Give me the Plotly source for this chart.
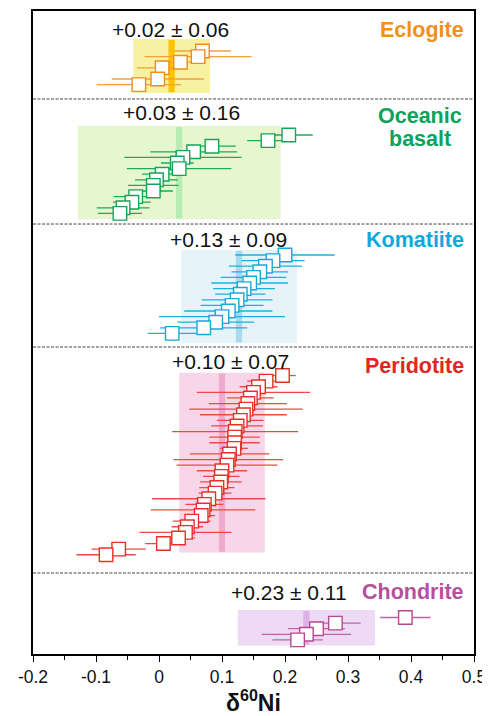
import plotly.graph_objects as go

# ---------------- data ----------------
GROUPS = ["Eclogite", "Oceanic<br>basalt", "Komatiite", "Peridotite", "Chondrite"]
STAT_LABELS = ["+0.02 ± 0.06", "+0.03 ± 0.16", "+0.13 ± 0.09", "+0.10 ± 0.07", "+0.23 ± 0.11"]
MEANS = [0.020, 0.032, 0.127, 0.100, 0.234]
SD2 = [0.061, 0.161, 0.092, 0.068, 0.109]

ecl_val = [0.069, 0.062, 0.034, 0.005, -0.002, -0.032]
ecl_err = [0.045, 0.085, 0.040, 0.040, 0.073, 0.067]
ecl_rank = [0, 1, 2, 3, 5, 6]

ob_val = [0.206, 0.173, 0.084, 0.055, 0.038, 0.029, 0.032, 0.005, -0.004, -0.009,
          -0.009, -0.037, -0.043, -0.057, -0.062]
ob_err = [0.038, 0.033, 0.038, 0.069, 0.093, 0.026, 0.083, 0.032, 0.034, 0.040,
          0.031, 0.035, 0.030, 0.042, 0.035]
ob_rank = list(range(15))

kom_val = [0.200, 0.181, 0.169, 0.160, 0.150, 0.144, 0.135, 0.129, 0.124, 0.116,
           0.110, 0.100, 0.090, 0.071, 0.021]
kom_err = [0.079, 0.050, 0.058, 0.045, 0.052, 0.061, 0.049, 0.040, 0.056, 0.050,
           0.070, 0.100, 0.061, 0.069, 0.039]
kom_rank = list(range(15))

per_val = [0.196, 0.170, 0.158, 0.150, 0.145, 0.141, 0.138, 0.134, 0.129, 0.124,
           0.121, 0.120, 0.120, 0.119, 0.112, 0.110, 0.108, 0.100, 0.099, 0.098,
           0.092, 0.089, 0.079, 0.072, 0.070, 0.067, 0.052, 0.045, 0.042, 0.031,
           0.007, -0.064, -0.084]
per_err = [0.021, 0.030, 0.030, 0.090, 0.037, 0.062, 0.090, 0.069, 0.037, 0.041,
           0.100, 0.040, 0.040, 0.022, 0.063, 0.087, 0.080, 0.040, 0.029, 0.033,
           0.028, 0.026, 0.090, 0.030, 0.083, 0.022, 0.030, 0.025, 0.073, 0.026,
           0.029, 0.043, 0.047]
per_rank = list(range(33))

chd_val = [0.391, 0.280, 0.250, 0.234, 0.220]
chd_err = [0.040, 0.040, 0.045, 0.071, 0.040]
chd_rank = list(range(5))

TICK_VALS = [-0.2, -0.1, 0, 0.1, 0.2, 0.3, 0.4, 0.5]
TICK_LABELS = ["-0.2", "-0.1", "0", "0.1", "0.2", "0.3", "0.4", "0.5"]
X_TITLE = "<b>δ<sup>60</sup>Ni</b>"

# ---------------- layout / style ----------------
VALS = [ecl_val, ob_val, kom_val, per_val, chd_val]
ERRS = [ecl_err, ob_err, kom_err, per_err, chd_err]
RANKS = [ecl_rank, ob_rank, kom_rank, per_rank, chd_rank]

ROW0 = [7.14, 22.14, 43.57, 65.1, 108.3]          # row position of first sample
BOX_Y = [(5.0, 14.64), (20.54, 37.2), (42.68, 59.34), (64.6, 96.7), (106.96, 113.3)]
SEPARATORS = [15.71, 38.04, 60.0, 100.36]
Y_MAX = 114.82

COLORS = ["#F28C1C", "#13A55A", "#17A8DA", "#E6302A", "#B5498F"]
ERR_COLORS = ["#F5A03C", "#1DAA5E", "#1CB0DF", "#EC4A40", "#BE63A0"]
LABEL_COLORS = ["#F39019", "#0BA25A", "#0EA8DC", "#E2261E", "#B6509A"]
BOX_FILL = ["#F7F1A2", "#E6F7CE", "#E6F4FA", "#F8D6EA", "#EFDAF5"]
BAND_FILL = ["#FFC400", "#B7EDB4", "#A9D9EE", "#F0A9CF", "#DFAFE8"]

STAT_POS = [(0.0187, 3.39), (0.0354, 18.21), (0.110, 40.84), (0.114, 62.5), (0.207, 103.8)]
LABEL_POS = [(0.488, [3.39], "right"), (0.415, [18.66, 22.86], "center"),
             (0.488, [40.9], "right"), (0.488, [63.4], "right"), (0.488, [103.75], "right")]

FONT = "Liberation Sans, Arial, sans-serif"

fig = go.Figure()
shapes = []
annotations = []

for i in range(5):
    m, s = MEANS[i], SD2[i]
    y0, y1 = BOX_Y[i]
    shapes.append(dict(type="rect", xref="x", yref="y", x0=m - s, x1=m + s, y0=y0, y1=y1,
                       fillcolor=BOX_FILL[i], line=dict(width=0), layer="below"))
    shapes.append(dict(type="rect", xref="x", yref="y", x0=m - 0.005, x1=m + 0.005,
                       y0=y0 + 0.15, y1=y1 - 0.15,
                       fillcolor=BAND_FILL[i], line=dict(width=0), layer="below"))
    ys = [ROW0[i] + r for r in RANKS[i]]
    fig.add_trace(go.Scatter(
        x=VALS[i], y=ys, mode="markers",
        marker=dict(symbol="square", size=13.5, color="white",
                    line=dict(color=COLORS[i], width=1.4)),
        error_x=dict(type="data", array=ERRS[i], visible=True, width=0,
                     thickness=1.3, color=ERR_COLORS[i]),
        showlegend=False, hoverinfo="skip"))
    sx, sy = STAT_POS[i]
    annotations.append(dict(x=sx, y=sy, xref="x", yref="y", text=STAT_LABELS[i],
                            showarrow=False, xanchor="center", yanchor="middle",
                            font=dict(family=FONT, size=21, color="#111111")))
    lx, lys, la = LABEL_POS[i]
    for line_text, ly in zip(GROUPS[i].split("<br>"), lys):
        annotations.append(dict(x=lx, y=ly, xref="x", yref="y", text="<b>%s</b>" % line_text,
                                showarrow=False, xanchor=la, yanchor="middle",
                                font=dict(family=FONT, size=21.5, color=LABEL_COLORS[i])))

annotations.append(dict(x=0.5, y=-0.0731, xref="paper", yref="paper", text=X_TITLE,
                        showarrow=False, xanchor="center", yanchor="middle",
                        font=dict(family=FONT, size=23, color="#111111")))

for yv in SEPARATORS:
    shapes.append(dict(type="line", xref="paper", yref="y", x0=0, x1=1, y0=yv, y1=yv,
                       line=dict(color="#444444", width=1, dash="3px,1.5px")))

# page body adds an 8px margin, so the figure is sized to fit the 490x716 window
fig.update_layout(
    width=482, height=708,
    margin=dict(l=25, r=16, t=3, b=62),
    paper_bgcolor="white", plot_bgcolor="white",
    shapes=shapes, annotations=annotations,
    font=dict(family=FONT, color="#111111"),
    xaxis=dict(range=[-0.2, 0.5], tickvals=TICK_VALS, ticktext=TICK_LABELS,
               automargin=False,
               ticks="outside", ticklen=6, tickwidth=1.2, tickcolor="black",
               minor=dict(dtick=0.05, ticks="outside", ticklen=4, tickcolor="black", tickwidth=1),
               showline=True, linecolor="black", linewidth=1.5, mirror=True,
               showgrid=False, zeroline=False,
               tickfont=dict(family=FONT, size=17.5, color="#111111")),
    yaxis=dict(range=[Y_MAX, 0], showticklabels=False, ticks="", showgrid=False,
               automargin=False,
               zeroline=False, showline=True, linecolor="black", linewidth=1.5, mirror=True),
)

fig.write_html("out.html")
